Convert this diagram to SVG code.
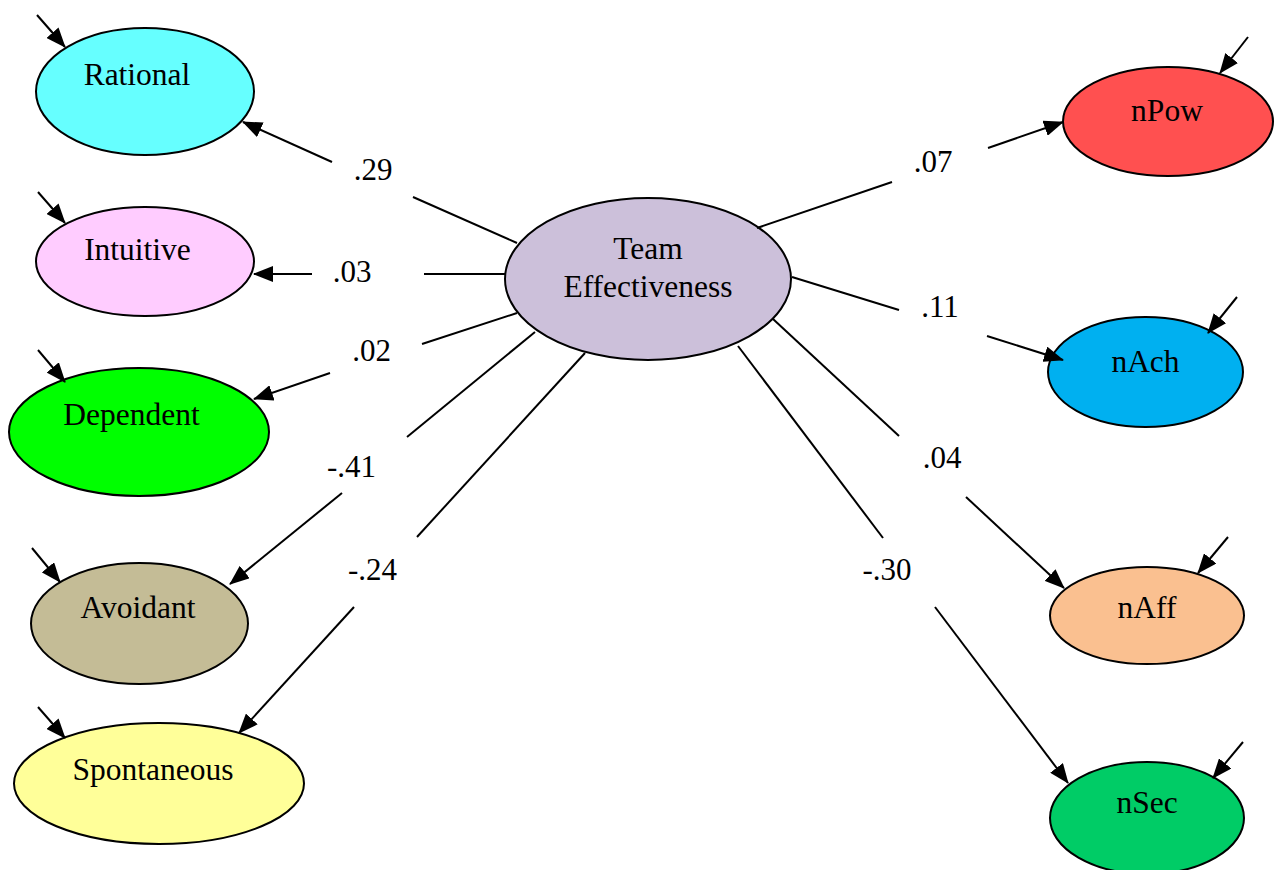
<svg xmlns="http://www.w3.org/2000/svg" width="1281" height="870" viewBox="0 0 1281 870">
<style>
.node ellipse{stroke:#000;stroke-width:2}
.node text{font-family:'Liberation Serif','Times New Roman',Tinos,'DejaVu Serif',serif;font-size:31.5px;fill:#000;text-anchor:middle}
.conn line{stroke:#000;stroke-width:2;fill:none}
.conn line.arr{marker-end:url(#ah)}
.conn text{font-family:'Liberation Serif','Times New Roman',Tinos,'DejaVu Serif',serif;font-size:31px;fill:#000;text-anchor:middle}
</style>
<defs>
<marker id="ah" viewBox="0 0 20 16" refX="19" refY="8" markerWidth="20" markerHeight="16" orient="auto" markerUnits="userSpaceOnUse">
<path d="M0,0 L20,8 L0,16 z" fill="#000"/>
</marker>
</defs>
<rect width="1281" height="870" fill="#fff"/>
<g id="rational" class="node"><ellipse cx="145" cy="91.5" rx="109" ry="63.5" fill="#66FFFF"/><text x="137" y="85">Rational</text></g>
<g id="intuitive" class="node"><ellipse cx="145" cy="261.5" rx="109" ry="54.5" fill="#FFCCFF"/><text x="137.5" y="260">Intuitive</text></g>
<g id="dependent" class="node"><ellipse cx="139" cy="432" rx="130" ry="64" fill="#00FF00"/><text x="131.5" y="425">Dependent</text></g>
<g id="avoidant" class="node"><ellipse cx="139.5" cy="623.5" rx="108.5" ry="60.5" fill="#C4BC96"/><text x="138" y="618">Avoidant</text></g>
<g id="spontaneous" class="node"><ellipse cx="159" cy="783.5" rx="145" ry="60.5" fill="#FFFF99"/><text x="153" y="780">Spontaneous</text></g>
<g id="team" class="node"><ellipse cx="648" cy="279" rx="143" ry="81" fill="#CCC0DA"/><text x="648" y="259">Team</text><text x="648" y="297">Effectiveness</text></g>
<g id="npow" class="node"><ellipse cx="1168" cy="121.5" rx="105" ry="54.5" fill="#FF5050"/><text x="1167" y="121">nPow</text></g>
<g id="nach" class="node"><ellipse cx="1145.5" cy="372" rx="97.5" ry="55" fill="#00B0F0"/><text x="1145.5" y="372">nAch</text></g>
<g id="naff" class="node"><ellipse cx="1147" cy="615.5" rx="97" ry="48.5" fill="#FAC090"/><text x="1147" y="618">nAff</text></g>
<g id="nsec" class="node"><ellipse cx="1147" cy="818" rx="97" ry="56" fill="#00CC66"/><text x="1147" y="813">nSec</text></g>
<g id="connectors" class="conn">
<line x1="37" y1="15" x2="65" y2="47" class="arr"/>
<line x1="38" y1="192" x2="65" y2="223" class="arr"/>
<line x1="38" y1="350" x2="65" y2="382" class="arr"/>
<line x1="32" y1="548" x2="60" y2="582" class="arr"/>
<line x1="38" y1="707" x2="65" y2="738" class="arr"/>
<line x1="1248" y1="37" x2="1220" y2="73" class="arr"/>
<line x1="1237" y1="297" x2="1208" y2="333" class="arr"/>
<line x1="1228" y1="537" x2="1198" y2="573" class="arr"/>
<line x1="1243" y1="742" x2="1213" y2="778" class="arr"/>
<line x1="517" y1="243" x2="413" y2="197"/>
<line x1="332" y1="162" x2="243" y2="122" class="arr"/>
<text x="373" y="180">.29</text>
<line x1="505" y1="274" x2="424" y2="274"/>
<line x1="312" y1="274" x2="254" y2="274" class="arr"/>
<text x="352" y="282">.03</text>
<line x1="517" y1="313" x2="422" y2="344"/>
<line x1="330" y1="373" x2="254" y2="399" class="arr"/>
<text x="371.5" y="361">.02</text>
<line x1="535" y1="332" x2="407" y2="437"/>
<line x1="342" y1="493" x2="230" y2="584" class="arr"/>
<text x="351.5" y="477">-.41</text>
<line x1="585" y1="353" x2="417" y2="537"/>
<line x1="354" y1="607" x2="239" y2="733" class="arr"/>
<text x="372.5" y="580">-.24</text>
<line x1="757" y1="228" x2="892" y2="182"/>
<line x1="988" y1="148" x2="1063" y2="122" class="arr"/>
<text x="933" y="172">.07</text>
<line x1="792" y1="277" x2="899" y2="310"/>
<line x1="987" y1="336" x2="1063" y2="360" class="arr"/>
<text x="940" y="317">.11</text>
<line x1="773" y1="319" x2="899" y2="436"/>
<line x1="966" y1="497" x2="1064" y2="588" class="arr"/>
<text x="942" y="468">.04</text>
<line x1="738" y1="346" x2="883" y2="538"/>
<line x1="935" y1="607" x2="1068" y2="783" class="arr"/>
<text x="887" y="580">-.30</text>
</g>
</svg>
